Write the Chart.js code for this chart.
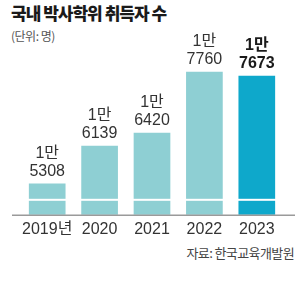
<!DOCTYPE html>
<html>
<head>
<meta charset="utf-8">
<script src="https://cdn.jsdelivr.net/npm/chart.js@4"></script>
<style>
  body { margin: 0; width: 300px; height: 289px; background: #fff; position: relative; overflow: hidden; }
  .t { position: absolute; font-family: "Noto Sans CJK KR", sans-serif; white-space: nowrap; }
  #title { left: 11px; top: 0px; font-size: 17px; font-weight: 900; color: #1a1a1a; letter-spacing: -1px; }
  #unit { left: 11px; top: 27px; font-size: 12px; color: #555; letter-spacing: -0.5px; }
  #src { right: 6px; top: 243px; font-size: 13px; color: #444; letter-spacing: -0.6px; }
  #wrap { position: absolute; left: 0; top: 0; width: 300px; height: 236px; }
</style>
</head>
<body>
<div class="t" id="title">국내 박사학위 취득자 수</div>
<div class="t" id="unit">(단위: 명)</div>
<div class="t" id="src">자료: 한국교육개발원</div>
<div id="wrap"><canvas id="c"></canvas></div>
<script>
const years = ['2019년', '2020', '2021', '2022', '2023'];
const doctors = [15308, 16139, 16420, 17760, 17673];
const labelTop = ['1만', '1만', '1만', '1만', '1만'];
const labelBottom = ['5308', '6139', '6420', '7760', '7673'];

const barColors = years.map((y, i) => i === years.length - 1 ? '#0ea8cb' : '#8ecfd3');

// Wertbeschriftung über den Balken + weißer Streifen (Achsenbruch)
const barLabels = {
  id: 'barLabels',
  afterDatasetsDraw(chart) {
    const ctx = chart.ctx;
    const area = chart.chartArea;
    ctx.save();
    ctx.fillStyle = '#fff';
    ctx.fillRect(area.left, area.bottom - 16, area.right - area.left, 2);

    // Grundlinie
    ctx.strokeStyle = '#9a9a9a';
    ctx.lineWidth = 1.5;
    ctx.beginPath();
    ctx.moveTo(12, area.bottom + 0.5);
    ctx.lineTo(295, area.bottom + 0.5);
    ctx.stroke();

    const meta = chart.getDatasetMeta(0);
    ctx.textAlign = 'center';
    ctx.textBaseline = 'middle';
    meta.data.forEach((bar, i) => {
      const last = i === meta.data.length - 1;
      ctx.fillStyle = last ? '#1a1a1a' : '#333';
      ctx.font = (last ? 'bold ' : '') + '16px "Liberation Sans", "Noto Sans CJK KR", sans-serif';
      ctx.fillText(labelBottom[i], bar.x, bar.y - 12);
      ctx.fillText(labelTop[i], bar.x, bar.y - 30);
    });
    ctx.restore();
  }
};

new Chart(document.getElementById('c'), {
  type: 'bar',
  data: {
    labels: years,
    datasets: [{
      data: doctors,
      backgroundColor: barColors,
      barPercentage: 0.7,
      categoryPercentage: 1
    }]
  },
  options: {
    responsive: true,
    maintainAspectRatio: false,
    animation: false,
    layout: { padding: { left: 21, right: 17, top: 60, bottom: 0 } },
    plugins: { legend: { display: false }, tooltip: { enabled: false } },
    scales: {
      y: { display: false, min: 14620, max: 18020 },
      x: {
        grid: { display: false },
        border: { display: false },
        ticks: {
          color: '#333',
          padding: -3,
          maxRotation: 0,
          autoSkip: false,
          font: { family: '"Liberation Sans", "Noto Sans CJK KR", sans-serif', size: 16 }
        }
      }
    }
  },
  plugins: [barLabels]
});
</script>
</body>
</html>
